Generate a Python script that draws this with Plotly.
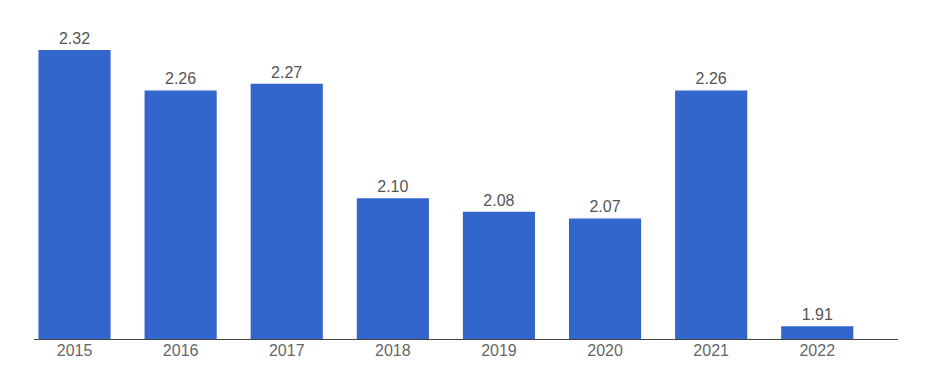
import plotly.graph_objects as go

years = ["2015", "2016", "2017", "2018", "2019", "2020", "2021", "2022"]
values = [2.32, 2.26, 2.27, 2.10, 2.08, 2.07, 2.26, 1.91]
labels = ["2.32", "2.26", "2.27", "2.10", "2.08", "2.07", "2.26", "1.91"]

fig = go.Figure(go.Bar(
    x=years, y=values, text=labels, textposition="outside",
    textfont=dict(size=16, color="#555555", family="Arial, Liberation Sans, sans-serif"),
    marker=dict(color="#3366CC", line=dict(width=0)),
    cliponaxis=False,
))
fig.update_layout(
    width=943, height=377,
    margin=dict(l=26, r=53, t=12, b=46),
    paper_bgcolor="white", plot_bgcolor="white",
    bargap=0.32,
    showlegend=False,
    font=dict(family="Arial, Liberation Sans, sans-serif"),
)
fig.update_xaxes(
    type="category", range=[-0.382, 7.761],
    showline=True, linecolor="#444444", linewidth=1,
    showgrid=False, ticks="", ticklabelstandoff=-3,
    tickfont=dict(size=16, color="#666666"),
)
fig.update_yaxes(
    range=[1.891, 2.3646], showgrid=False, showticklabels=False,
    zeroline=False, showline=False,
)
fig.write_html("out.html")
